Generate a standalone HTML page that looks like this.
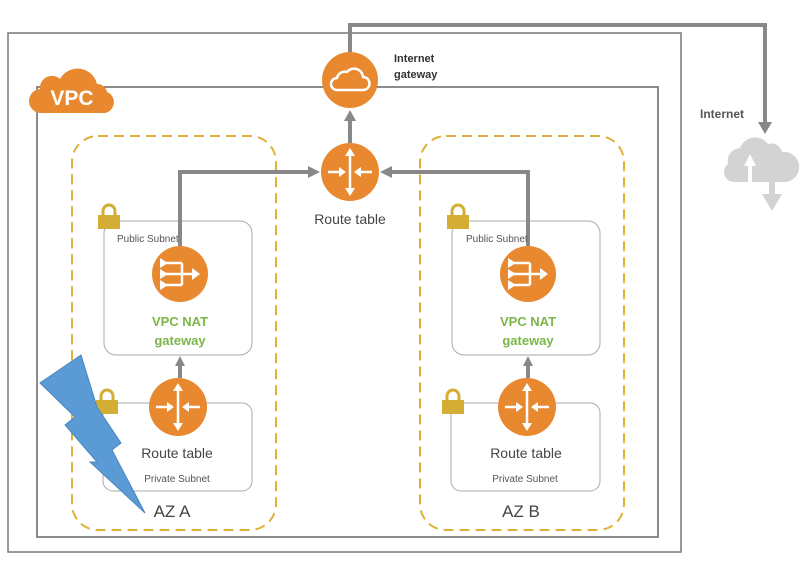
<!DOCTYPE html>
<html><head><meta charset="utf-8"><style>
html,body{margin:0;padding:0;background:#fff;}
svg{display:block;}
text{font-family:"Liberation Sans",sans-serif;}
</style></head><body>
<svg width="809" height="562" viewBox="0 0 809 562" xmlns="http://www.w3.org/2000/svg">
<defs>
<g id="rt">
  <circle r="29" fill="#e8892f"/>
  <g stroke="#fff" stroke-width="2.5" fill="#fff">
    <line x1="0" y1="-18" x2="0" y2="18"/>
    <polygon points="0,-24 -5,-16 5,-16" stroke="none"/>
    <polygon points="0,24 -5,16 5,16" stroke="none"/>
    <line x1="-22" y1="0" x2="-9" y2="0"/>
    <polygon points="-4,0 -11,-5 -11,5" stroke="none"/>
    <line x1="22" y1="0" x2="9" y2="0"/>
    <polygon points="4,0 11,-5 11,5" stroke="none"/>
  </g>
</g>
<g id="nat">
  <circle r="28" fill="#e8892f"/>
  <g stroke="#fff" stroke-width="2.5" fill="none">
    <line x1="-14" y1="-11" x2="2" y2="-11"/>
    <line x1="-14" y1="0" x2="14" y2="0"/>
    <line x1="-14" y1="11" x2="2" y2="11"/>
    <line x1="2" y1="-11" x2="2" y2="11"/>
  </g>
  <g fill="#fff">
    <polygon points="-20,-16 -12,-11 -20,-6"/>
    <polygon points="-20,-5 -12,0 -20,5"/>
    <polygon points="-20,6 -12,11 -20,16"/>
    <polygon points="20,0 12,-6 12,6"/>
  </g>
</g>
<g id="lock">
  <path d="M5,10 V6 a6,6 0 0 1 12,0 V10" fill="none" stroke="#d4ad35" stroke-width="3"/>
  <rect x="0" y="10" width="22" height="14" fill="#d4ad35"/>
</g>
</defs>

<rect x="8" y="33" width="673" height="519" fill="none" stroke="#777" stroke-width="1.5"/>
<rect x="37" y="87" width="621" height="450" fill="none" stroke="#666" stroke-width="1.5"/>

<!-- VPC cloud -->
<path d="M42,113 a12,12 0 0 1 -2,-24 a12,12 0 0 1 20,-10 a20,20 0 0 1 37,5 a10,10 0 0 1 10,8 a11,11 0 0 1 -2,21 Z" fill="#e8892f"/>
<text x="72" y="105" font-size="21" font-weight="bold" fill="#fff" text-anchor="middle" font-family="Liberation Sans Narrow, Liberation Sans, sans-serif">VPC</text>

<polyline points="350,52 350,25 765,25 765,125" fill="none" stroke="#888" stroke-width="4"/>
<polygon points="758,122 772,122 765,134" fill="#888"/>
<circle cx="350" cy="80" r="28" fill="#e8892f"/>
<path d="M337,90 a6,6 0 0 1 0,-12 a8,8 0 0 1 10,-6 a9,9 0 0 1 16,5 a6.5,6.5 0 0 1 0,13 Z" fill="none" stroke="#fff" stroke-width="2.5"/>
<text x="394" y="62" font-size="11" font-weight="bold" fill="#333">Internet</text>
<text x="394" y="78" font-size="11" font-weight="bold" fill="#333">gateway</text>

<text x="700" y="118" font-size="12" font-weight="bold" fill="#555">Internet</text>
<path d="M734,182 a10,10 0 0 1 -6,-18 a13,13 0 0 1 12,-16 a16,16 0 0 1 28,-4 a11,11 0 0 1 14,8 a13,13 0 0 1 4,30 Z" fill="#d3d3d3"/>
<polygon points="750,154 744,166 748,166 748,183 752,183 752,166 756,166" fill="#fff"/>
<rect x="769" y="178" width="6" height="18" fill="#d3d3d3"/>
<polygon points="762,194 782,194 772,211" fill="#d3d3d3"/>

<line x1="350" y1="143" x2="350" y2="118" stroke="#888" stroke-width="4"/>
<polygon points="344,121 356,121 350,110" fill="#888"/>

<rect x="72" y="136" width="204" height="394" rx="26" fill="none" stroke="#e0b13a" stroke-width="2" stroke-dasharray="10,6"/>
<rect x="420" y="136" width="204" height="394" rx="26" fill="none" stroke="#e0b13a" stroke-width="2" stroke-dasharray="10,6"/>

<rect x="104" y="221" width="148" height="134" rx="12" fill="none" stroke="#aaa" stroke-width="1"/>
<rect x="452" y="221" width="148" height="134" rx="12" fill="none" stroke="#aaa" stroke-width="1"/>
<rect x="103" y="403" width="149" height="88" rx="10" fill="none" stroke="#aaa" stroke-width="1"/>
<rect x="451" y="403" width="149" height="88" rx="10" fill="none" stroke="#aaa" stroke-width="1"/>

<polyline points="180,246 180,172 310,172" fill="none" stroke="#888" stroke-width="4"/>
<polygon points="308,166 308,178 320,172" fill="#888"/>
<polyline points="528,246 528,172 390,172" fill="none" stroke="#888" stroke-width="4"/>
<polygon points="392,166 392,178 380,172" fill="#888"/>

<use href="#rt" x="350" y="172"/>
<text x="350" y="224" font-size="14" fill="#444" text-anchor="middle">Route table</text>

<use href="#lock" x="98" y="205"/>
<use href="#lock" x="447" y="205"/>
<use href="#lock" x="96" y="390"/>
<use href="#lock" x="442" y="390"/>

<text x="117" y="242" font-size="10" fill="#555">Public Subnet</text>
<text x="466" y="242" font-size="10" fill="#555">Public Subnet</text>

<use href="#nat" x="180" y="274"/>
<use href="#nat" x="528" y="274"/>
<text x="180" y="326" font-size="13" font-weight="bold" fill="#7ab648" text-anchor="middle">VPC NAT</text>
<text x="180" y="345" font-size="13" font-weight="bold" fill="#7ab648" text-anchor="middle">gateway</text>
<text x="528" y="326" font-size="13" font-weight="bold" fill="#7ab648" text-anchor="middle">VPC NAT</text>
<text x="528" y="345" font-size="13" font-weight="bold" fill="#7ab648" text-anchor="middle">gateway</text>

<line x1="180" y1="378" x2="180" y2="364" stroke="#888" stroke-width="4"/>
<polygon points="175,366 185,366 180,356" fill="#888"/>
<line x1="528" y1="378" x2="528" y2="364" stroke="#888" stroke-width="4"/>
<polygon points="523,366 533,366 528,356" fill="#888"/>

<use href="#rt" x="178" y="407"/>
<use href="#rt" x="527" y="407"/>
<text x="177" y="458" font-size="14" fill="#444" text-anchor="middle">Route table</text>
<text x="526" y="458" font-size="14" fill="#444" text-anchor="middle">Route table</text>
<text x="177" y="482" font-size="10" fill="#555" text-anchor="middle">Private Subnet</text>
<text x="525" y="482" font-size="10" fill="#555" text-anchor="middle">Private Subnet</text>

<text x="172" y="517" font-size="17" fill="#444" text-anchor="middle">AZ A</text>
<text x="521" y="517" font-size="17" fill="#444" text-anchor="middle">AZ B</text>

<polygon points="81,355 40,383 75,417 65,425 97,462 90,462 145,513 112,450 121,443 97,407" fill="#5b9bd5" stroke="#4a86c0" stroke-width="1"/>
</svg>
</body></html>
